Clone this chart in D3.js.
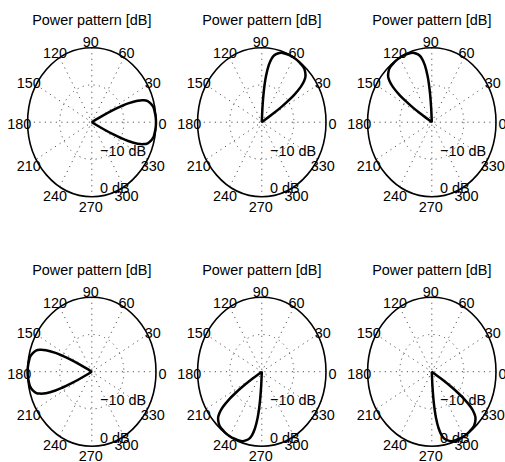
<!DOCTYPE html>
<html>
<head>
<meta charset="utf-8">
<script src="https://cdn.jsdelivr.net/npm/d3@7"></script>
<style>
  html, body { margin: 0; padding: 0; background: #fff; }
  svg { display: block; }
  text { font-family: "Liberation Sans", Arial, Helvetica, sans-serif; fill: #000; }
</style>
</head>
<body>
<svg id="chart" width="505" height="462"></svg>
<script>
// Six polar power patterns of a steered beam, drawn on a dB radial scale.
const panelTitles = ["Power pattern [dB]", "Power pattern [dB]", "Power pattern [dB]",
                     "Power pattern [dB]", "Power pattern [dB]", "Power pattern [dB]"];
const steerAngles = [0, 60, 120, 180, 240, 300];          // beam direction, degrees
const angleTicks = [0, 30, 60, 90, 120, 150, 180, 210, 240, 270, 300, 330];
const ringLevels = [-10, 0];                               // labelled dB circles
const ringLabels = ["\u221210 dB", "0 dB"];
const dBFloor = -20;                                       // centre of the plot
// main-lobe gain (dB) versus angle away from the beam direction (degrees)
const lobeOffsets = [0, 4, 8, 12, 15, 18, 20, 22, 24, 25, 26, 27, 28, 40];
const lobeGain    = [0, -0.05, -0.2, -0.4, -0.9, -1.7, -2.8, -4.6, -7.6, -9.8, -12.5, -16, -20, -30];

const svg = d3.select("#chart");
const cols = [91.8, 261.8, 431.8];
const rows = [122.2, 371.7];
const rx = 64.2, ry = 74.5;
const FONT = 15.5, SQUEEZE = 0.93;   // slightly condensed Helvetica look

const rScale = d3.scaleLinear().domain([dBFloor, 0]).range([0, 1]).clamp(true);
const rad = d => d * Math.PI / 180;

// place a condensed text at (px, py)
function label(sel, px, py) {
  return sel.attr("transform", (d, i) =>
    `translate(${typeof px === "function" ? px(d, i) : px},${typeof py === "function" ? py(d, i) : py}) scale(${SQUEEZE},1)`)
    .attr("font-size", FONT);
}

// symmetric lobe samples, offset from -max to +max
const lobe = [];
for (let i = lobeOffsets.length - 1; i > 0; i--) lobe.push({off: -lobeOffsets[i], g: lobeGain[i]});
for (let i = 0; i < lobeOffsets.length; i++) lobe.push({off: lobeOffsets[i], g: lobeGain[i]});

steerAngles.forEach((steer, k) => {
  const cx = cols[k % 3], cy = rows[Math.floor(k / 3)];
  const x = d3.scaleLinear().domain([-1, 1]).range([cx - rx, cx + rx]);
  const y = d3.scaleLinear().domain([-1, 1]).range([cy + ry, cy - ry]);
  const g = svg.append("g");

  // dotted spokes every 30 degrees
  g.selectAll("line.spoke").data(angleTicks.filter(a => a < 180)).join("line")
    .attr("x1", a => x(Math.cos(rad(a)))).attr("y1", a => y(Math.sin(rad(a))))
    .attr("x2", a => x(-Math.cos(rad(a)))).attr("y2", a => y(-Math.sin(rad(a))))
    .attr("stroke", "#555").attr("stroke-width", 1).attr("stroke-dasharray", "1.2,4.3");

  // inner dotted dB circles
  g.selectAll("ellipse.ring").data(ringLevels.filter(v => v < 0)).join("ellipse")
    .attr("cx", cx).attr("cy", cy)
    .attr("rx", v => x(rScale(v)) - cx).attr("ry", v => cy - y(rScale(v)))
    .attr("fill", "none").attr("stroke", "#555").attr("stroke-width", 1)
    .attr("stroke-dasharray", "1.2,4.3");

  // outer 0 dB boundary
  g.append("ellipse").attr("cx", cx).attr("cy", cy)
    .attr("rx", x(1) - cx).attr("ry", cy - y(1))
    .attr("fill", "none").attr("stroke", "#000").attr("stroke-width", 1.6);

  // angle labels
  label(g.selectAll("text.ang").data(angleTicks).join("text"),
        a => x(1.115 * Math.cos(rad(a))) - 1,
        a => y(1.105 * Math.sin(rad(a))) + 1.5)
    .attr("text-anchor", "middle").attr("dominant-baseline", "central").text(a => a);

  // dB circle labels
  label(g.selectAll("text.db").data(ringLevels).join("text"),
        x(0.128), v => y(-rScale(v)) - 3.5)
    .text((v, i) => ringLabels[i]);

  // the beam
  const line = d3.line()
    .x(d => x(rScale(d.g) * Math.cos(rad(steer + d.off))))
    .y(d => y(rScale(d.g) * Math.sin(rad(steer + d.off))))
    .curve(d3.curveCatmullRom);
  g.append("path").datum(lobe).attr("d", line)
    .attr("fill", "none").attr("stroke", "#000").attr("stroke-width", 2.5)
    .attr("stroke-linejoin", "round");

  // title
  label(g.append("text"), cx, cy - 97)
    .attr("text-anchor", "middle").text(panelTitles[k]);
});
</script>
</body>
</html>
